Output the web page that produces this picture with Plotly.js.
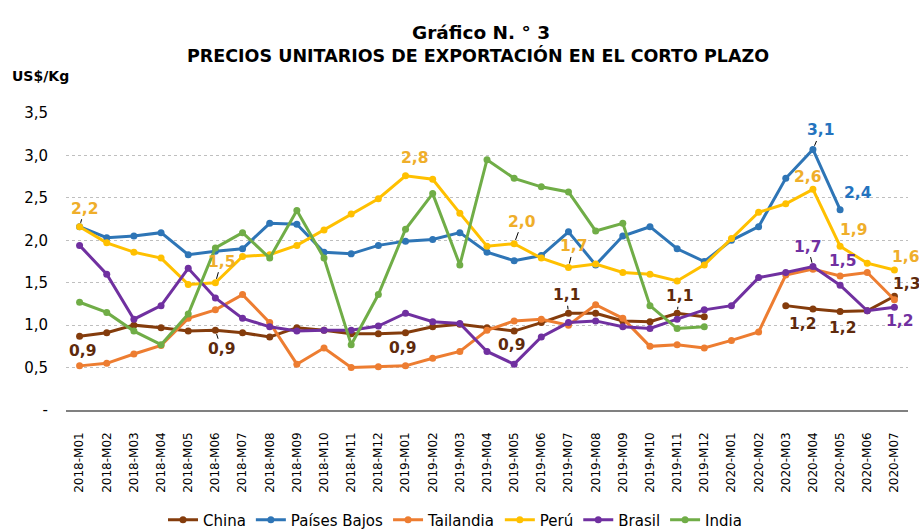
<!DOCTYPE html>
<html>
<head>
<meta charset="utf-8">
<script src="https://cdn.plot.ly/plotly-3.0.1.min.js"></script>
<style>html,body{margin:0;padding:0;background:#fff;}#chart{width:919px;height:529px;}</style>
</head>
<body>
<div id="chart"></div>
<script>
const categories = ['2018-M01','2018-M02','2018-M03','2018-M04','2018-M05','2018-M06','2018-M07','2018-M08','2018-M09','2018-M10','2018-M11','2018-M12',
  '2019-M01','2019-M02','2019-M03','2019-M04','2019-M05','2019-M06','2019-M07','2019-M08','2019-M09','2019-M10','2019-M11','2019-M12',
  '2020-M01','2020-M02','2020-M03','2020-M04','2020-M05','2020-M06','2020-M07'];

const china = [0.87,0.91,1.00,0.97,0.93,0.94,0.91,0.86,0.97,0.94,0.90,0.90,0.91,0.98,1.01,0.97,0.93,1.03,1.14,1.14,1.05,1.04,1.14,1.10,null,null,1.23,1.19,1.16,1.17,1.34];
const paisesBajos = [2.16,2.03,2.05,2.09,1.83,1.87,1.90,2.20,2.19,1.86,1.84,1.94,1.99,2.01,2.09,1.86,1.76,1.82,2.10,1.71,2.05,2.16,1.90,1.75,2.00,2.16,2.73,3.07,2.36,null,null];
const tailandia = [0.52,0.55,0.66,0.76,1.08,1.18,1.36,1.03,0.54,0.73,0.50,0.51,0.52,0.61,0.69,0.94,1.05,1.07,1.00,1.24,1.08,0.75,0.77,0.73,0.82,0.92,1.59,1.66,1.58,1.62,1.30];
const peru = [2.16,1.97,1.86,1.79,1.48,1.50,1.81,1.83,1.94,2.12,2.31,2.49,2.76,2.72,2.32,1.93,1.96,1.79,1.68,1.72,1.62,1.60,1.52,1.71,2.02,2.33,2.43,2.60,1.93,1.73,1.65];
const brasil = [1.94,1.60,1.07,1.23,1.67,1.32,1.08,0.98,0.93,0.94,0.94,0.99,1.14,1.04,1.02,0.69,0.54,0.86,1.03,1.05,0.98,0.96,1.07,1.18,1.23,1.56,1.62,1.69,1.47,1.17,1.21];
const india = [1.27,1.15,0.93,0.77,1.13,1.91,2.09,1.79,2.35,1.79,0.77,1.36,2.13,2.55,1.71,2.95,2.73,2.63,2.57,2.11,2.20,1.23,0.96,0.98,null,null,null,null,null,null,null];

const seriesNames = ['China','Países Bajos','Tailandia','Perú','Brasil','India'];
const yTickVals = [0,0.5,1,1.5,2,2.5,3,3.5];
const yTickText = ['-','0,5','1,0','1,5','2,0','2,5','3,0','3,5'];

const seriesData = [china, paisesBajos, tailandia, peru, brasil, india];
const lineColors = ['#843C0C','#2E75B6','#ED7D31','#FFC000','#7030A0','#70AD47'];
const labelColors = ['#5E2A0C','#2473BE','#ED7D31','#EFAE2A','#7030A0','#70AD47'];

// data labels: [series index, category index, dx, dy, leader]
const labelSpecs = [
  [3,0,5,-18,true],[0,0,3,15,false],
  [3,5,6,-21,true],[0,5,6,19,true],
  [3,12,9,-18,false],[0,12,-3,15,false],
  [3,16,8,-22,true],[0,16,-3,14,false],
  [3,18,5,-21,true],[0,18,-2,-18,true],
  [0,22,2,-17,true],
  [1,27,8,-19,true],[3,27,-5,-12,false],
  [1,28,18,-17,false],[3,28,13,-16,false],
  [4,27,-5,-20,true],[4,28,2,-24,false],
  [3,30,11,-13,false],[0,30,12,-12,false],
  [0,27,-10,15,false],[0,28,2,16,false],[4,30,5,14,false]
];

const FONT = '"DejaVu Sans", Arial, sans-serif';

const traces = seriesData.map((d,i)=>({
  type:'scatter', mode:'lines+markers', name:seriesNames[i],
  x:categories, y:d,
  line:{color:lineColors[i], width:3},
  marker:{color:lineColors[i], size:7},
  connectgaps:false
}));

const annotations = labelSpecs.map(([s,c,dx,dy,leader])=>({
  x:categories[c], y:seriesData[s][c], xref:'x', yref:'y',
  text:'<b>'+seriesData[s][c].toFixed(1).replace('.',',')+'</b>',
  showarrow:true, ax:dx, ay:dy, arrowhead:0, arrowwidth:1,
  arrowcolor: leader ? '#000' : 'rgba(0,0,0,0)', standoff:4,
  font:{family:FONT, size:15.5, color:labelColors[s]}
}));

annotations.push(
  {xref:'paper', yref:'paper', x:(481-66)/842, y:(410-33)/297, xanchor:'center', yanchor:'middle', showarrow:false,
   text:'<b>Gráfico N. ° 3</b>', font:{family:FONT, size:18.5, color:'#000'}},
  {xref:'paper', yref:'paper', x:(478-66)/842, y:(410-55)/297, xanchor:'center', yanchor:'middle', showarrow:false,
   text:'<b>PRECIOS UNITARIOS DE EXPORTACIÓN EN EL CORTO PLAZO</b>', font:{family:FONT, size:17.5, color:'#000'}},
  {xref:'paper', yref:'paper', x:-56/842, y:(410-76)/297, xanchor:'left', yanchor:'middle', showarrow:false,
   text:'<b>US$/Kg</b>', font:{family:FONT, size:14, color:'#000'}}
);

const layout = {
  width:919, height:529,
  margin:{l:66, r:11, t:113, b:119},
  paper_bgcolor:'#fff', plot_bgcolor:'#fff',
  font:{family:FONT, color:'#000'},
  showlegend:true,
  legend:{orientation:'h', xref:'container', yref:'container', x:455/919, xanchor:'center', y:1-520/529, yanchor:'middle',
          font:{family:FONT, size:15, color:'#000'}, itemwidth:30, tracegroupgap:0, bgcolor:'rgba(0,0,0,0)'},
  xaxis:{type:'category', range:[-0.5,30.5], showline:true, linecolor:'#808080', linewidth:1.5,
         showgrid:false, ticks:'', tickangle:-90, ticklabelstandoff:16, automargin:false,
         tickfont:{family:FONT, size:12, color:'#000'}, fixedrange:true},
  yaxis:{range:[0,3.5], tickvals:yTickVals, ticktext:yTickText, showgrid:true, automargin:false,
         gridcolor:'#BFBFBF', griddash:'dot', gridwidth:1, zeroline:false, showline:false,
         ticks:'', ticklabelstandoff:17, tickfont:{family:FONT, size:15, color:'#000'}, fixedrange:true},
  annotations:annotations
};

Plotly.newPlot('chart', traces, layout, {displayModeBar:false, staticPlot:true});
</script>
</body>
</html>
